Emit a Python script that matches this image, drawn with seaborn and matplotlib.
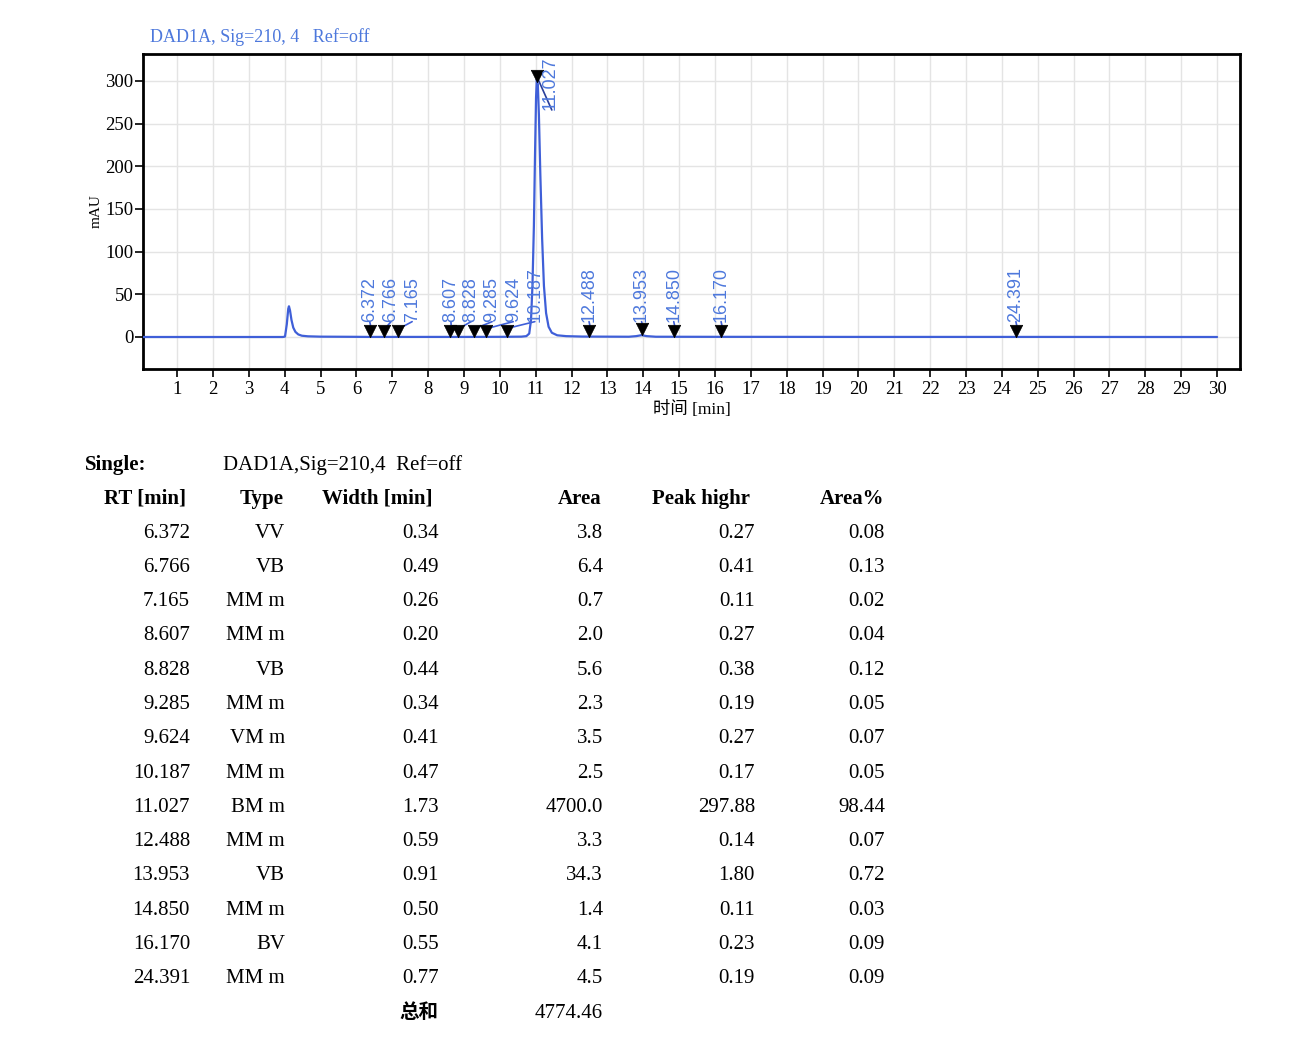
import numpy as np
import matplotlib
matplotlib.use('Agg')
import matplotlib.pyplot as plt
import seaborn as sns

# ---------------- data ----------------
trace_time = [0.05, 3.95, 4.01, 4.06, 4.10, 4.12, 4.15, 4.19, 4.24, 4.30, 4.38, 4.48,
              4.65, 5.0, 6.0, 6.3, 8.0, 9.0, 10.0, 10.6, 10.74, 10.82, 10.87, 10.91,
              10.95, 10.98, 11.01, 11.03, 11.06, 11.09, 11.13, 11.18, 11.23, 11.29,
              11.36, 11.45, 11.6, 11.85, 12.3, 13.6, 13.8, 13.95, 14.1, 14.35, 16.0,
              20.0, 25.0, 30.0]
trace_mau = [0.0, 0.0, 0.5, 15.0, 33.0, 36.0, 31.0, 20.0, 11.0, 6.0, 3.0, 1.5,
             0.8, 0.4, 0.2, 0.1, 0.1, 0.1, 0.2, 0.4, 1.0, 4.0, 20.0, 60.0,
             130.0, 210.0, 280.0, 302.0, 296.0, 260.0, 190.0, 115.0, 60.0, 28.0,
             12.0, 5.0, 2.0, 1.0, 0.5, 0.3, 1.0, 2.1, 1.0, 0.3, 0.2,
             0.1, 0.1, 0.0]

rt = [6.372, 6.766, 7.165, 8.607, 8.828, 9.285, 9.624, 10.187, 11.027,
      12.488, 13.953, 14.850, 16.170, 24.391]
peak_type = ['VV', 'VB', 'MM m', 'MM m', 'VB', 'MM m', 'VM m', 'MM m', 'BM m',
             'MM m', 'VB', 'MM m', 'BV', 'MM m']
width_min = [0.34, 0.49, 0.26, 0.20, 0.44, 0.34, 0.41, 0.47, 1.73, 0.59, 0.91,
             0.50, 0.55, 0.77]
area = [3.8, 6.4, 0.7, 2.0, 5.6, 2.3, 3.5, 2.5, 4700.0, 3.3, 34.3, 1.4, 4.1, 4.5]
peak_height = [0.27, 0.41, 0.11, 0.27, 0.38, 0.19, 0.27, 0.17, 297.88, 0.14,
               1.80, 0.11, 0.23, 0.19]
area_pct = [0.08, 0.13, 0.02, 0.04, 0.12, 0.05, 0.07, 0.05, 98.44, 0.07, 0.72,
            0.03, 0.09, 0.09]
total_area = 4774.46

x_ticks = list(range(1, 31))
y_ticks = [0, 50, 100, 150, 200, 250, 300]

signal_title = 'DAD1A, Sig=210, 4   Ref=off'
table_signal = 'DAD1A,Sig=210,4  Ref=off'
headers = ['RT [min]', 'Type', 'Width [min]', 'Area', 'Peak highr', 'Area%']

# ---------------- layout / style ----------------
W, H = 1305, 1049
TRACE = '#3f5fd8'
LABEL = '#4d78dc'
label_dx = [0, 0.2, 0.39, 0.03, 0.37, 0.5, 0.75, 0.79, 0.0, 0, 0, 0, 0, 0]

sns.set_theme(style='whitegrid')
plt.rcParams['font.family'] = ['Liberation Serif', 'Noto Sans CJK SC', 'DejaVu Sans']
plt.rcParams['text.color'] = 'black'
plt.rcParams['axes.labelcolor'] = 'black'

fig = plt.figure(figsize=(W / 100, H / 100), dpi=100)
fig.patch.set_facecolor('white')
ax = fig.add_axes([143 / W, 1 - 369 / H, (1240 - 143) / W, (369 - 54) / H])

sns.lineplot(x=trace_time, y=trace_mau, ax=ax, color=TRACE, lw=1.6,
             estimator=None, sort=False, zorder=3)

marker_y = np.interp(rt, trace_time, trace_mau) + 7
sns.scatterplot(x=rt, y=marker_y, ax=ax, marker='v', s=80, color='black',
                edgecolor='black', linewidth=0.5, zorder=5)

ax.set_xlim(0.05, 30.64)
ax.set_ylim(-37.5, 331.6)
ax.set_xticks(x_ticks)
ax.set_yticks(y_ticks)
ax.grid(True, color='#e4e4e4', lw=1.0)
ax.set_facecolor('white')
for s in ax.spines.values():
    s.set_visible(True)
    s.set_color('black')
    s.set_linewidth(2)
ax.tick_params(axis='both', bottom=True, left=True, direction='out', length=6,
               width=1.2, color='black', labelcolor='black', labelsize=13.5)
ax.tick_params(axis='x', pad=3)
ax.tick_params(axis='y', pad=1)
ax.set_xlabel('时间 [min]', fontsize=12.5, labelpad=2, color='black')
ax.set_ylabel('mAU', fontsize=11, labelpad=2, color='black')

# peak labels
for i, r in enumerate(rt):
    if i == 8:
        lx, ly = 11.40, 266
        ax.plot([r, lx + 0.05], [marker_y[i], ly], color='#2a3f9a', lw=1.2, zorder=4)
        ax.text(lx, ly, f'{r:.3f}', rotation=90, ha='center', va='bottom',
                color=LABEL, fontsize=13, family='Liberation Sans', zorder=6)
    else:
        lx = r + label_dx[i]
        ax.plot([r + 0.04, lx], [marker_y[i] + 3, 18], color=TRACE, lw=1.2, zorder=4)
        ax.text(lx, 17, f'{r:.3f}', rotation=90, ha='center', va='bottom',
                color=LABEL, fontsize=13, family='Liberation Sans', zorder=6)

fig.text(150 / W, 1 - 37 / H, signal_title, color=LABEL, fontsize=13,
         va='center', ha='left')

# ---------------- table ----------------
FS = 15
fig.text(85 / W, 1 - 465 / H, 'Single:', fontsize=FS, weight='bold', va='center')
fig.text(223 / W, 1 - 465 / H, table_signal, fontsize=FS, va='center')

head_right = [186, 284, 433, 601, 750, 884]
col_right = [190, 285, 439, 603, 755, 885]
for h, xr in zip(headers, head_right):
    fig.text(xr / W, 1 - 499 / H, h, fontsize=FS, weight='bold', va='center', ha='right')

for i in range(len(rt)):
    y = 533 + i * 34.3
    vals = [f'{rt[i]:.3f}', peak_type[i], f'{width_min[i]:.2f}', f'{area[i]:.1f}',
            f'{peak_height[i]:.2f}', f'{area_pct[i]:.2f}']
    for v, xr in zip(vals, col_right):
        fig.text(xr / W, 1 - y / H, v, fontsize=FS, va='center', ha='right')

fig.text(438 / W, 1 - 1013 / H, '总和', fontsize=FS - 1, weight='bold', va='center',
         ha='right', family=['Noto Sans CJK SC'])
fig.text(603 / W, 1 - 1013 / H, f'{total_area:.2f}', fontsize=FS, va='center', ha='right')

fig.savefig('out.png', dpi=100, facecolor='white')
